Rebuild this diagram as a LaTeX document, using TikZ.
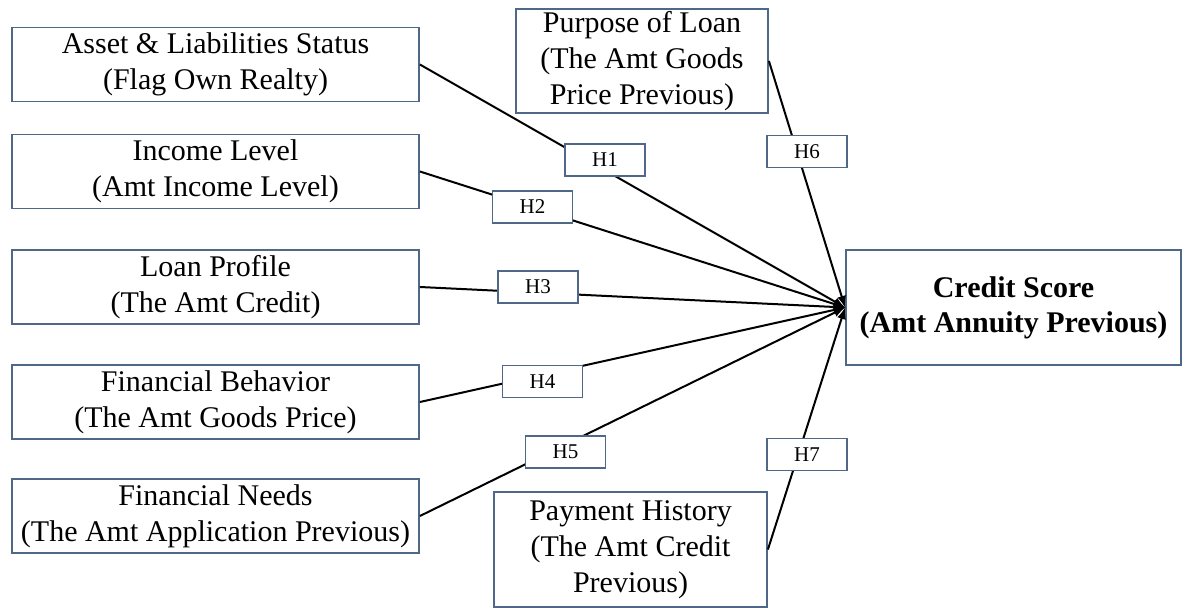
\documentclass[tikz,border=0pt]{standalone}
\usepackage{fontspec}
\setmainfont{Liberation Serif}
\usetikzlibrary{positioning}
\definecolor{boxline}{RGB}{80,104,136}

\begin{document}
\begin{tikzpicture}[x=0.5pt, y=-0.5pt]
\tikzstyle{main}=[rectangle, draw=boxline, line width=0.9pt, align=center, inner sep=1pt, font=\fontsize{15}{18}\selectfont]
\tikzstyle{factor}=[main, minimum width=203.5pt, minimum height=37pt]
\tikzstyle{hyp}=[rectangle, draw=boxline, line width=0.9pt, fill=white, minimum width=40pt, minimum height=16pt, inner sep=0pt, font=\fontsize{10.5}{12}\selectfont]
\tikzstyle{connect}=[-latex, line width=1pt]
  \useasboundingbox (0,0) rectangle (1188,608);
  % independent variables
  \node[factor] (asset) at (215.5,64.5) {Asset \& Liabilities Status\\(Flag Own Realty)};
  \node[factor] (income) at (215.5,171.5) {Income Level\\(Amt Income Level)};
  \node[factor] (loan) at (215.5,287) {Loan Profile\\(The Amt Credit)};
  \node[factor] (behav) at (215.5,402) {Financial Behavior\\(The Amt Goods Price)};
  \node[factor] (needs) at (215.5,516) {Financial Needs\\(The Amt Application Previous)};
  \node[main, minimum width=126pt, minimum height=51pt] (purpose) at (642,61) {Purpose of Loan\\(The Amt Goods\\Price Previous)};
  \node[main, minimum width=136.5pt, minimum height=57.5pt] (payment) at (630.5,549.5) {Payment History\\(The Amt Credit\\Previous)};
  % dependent variable
  \node[main, minimum width=167.5pt, minimum height=57.5pt, font=\fontsize{15}{17.5}\selectfont\bfseries] (credit) at (1013.5,307.5) {Credit Score\\(Amt Annuity Previous)};
  \path (asset.east) edge [connect] (credit.west)
        (income.east) edge [connect] (credit.west)
        (loan.east) edge [connect] (credit.west)
        (behav.east) edge [connect] (credit.west)
        (needs.east) edge [connect] (credit.west)
        (purpose.east) edge [connect] (credit.west)
        (payment.east) edge [connect] (credit.west);
  % hypotheses
  \node[hyp] (h1) at (605,160) {H1};
  \node[hyp] (h2) at (532.5,207) {H2};
  \node[hyp] (h3) at (538,287) {H3};
  \node[hyp] (h4) at (542.5,381.5) {H4};
  \node[hyp] (h5) at (565.5,452) {H5};
  \node[hyp] (h6) at (807,151.5) {H6};
  \node[hyp] (h7) at (807,454.5) {H7};
\end{tikzpicture}
\end{document}
